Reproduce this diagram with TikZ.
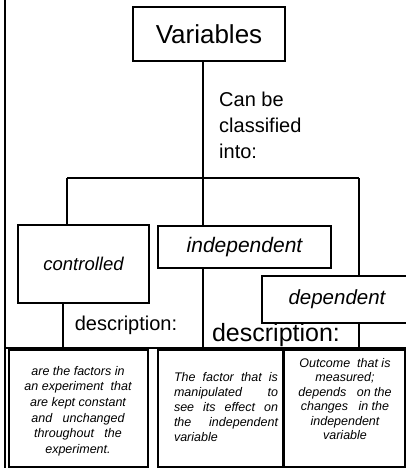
\documentclass[tikz,border=0pt]{standalone}
\usepackage{fontspec}
\setmainfont{Liberation Sans}
\usepackage{tikz}

\tikzset{
  box/.style={draw, line width=1.3pt, inner sep=0pt},
  descbox/.style={draw, line width=1.6pt, inner sep=0pt},
  desctxt/.style={inner sep=0pt, font=\fontsize{12.5}{15.6}\selectfont\itshape},
  link/.style={line width=1.3pt}
}

\begin{document}
\begin{tikzpicture}[x=1pt,y=-1pt]
        \clip (0,0) rectangle (406,468);
        \draw[line width=1.5pt] (5,0) -- (5,468);
        \draw[line width=1.2pt] (5,348) -- (406,348);

        \node[box, line width=1.5pt, minimum width=152pt, minimum height=54pt, font=\fontsize{26}{30}\selectfont] (var) at (209,34) {Variables};
        \node[anchor=north west, align=left, inner sep=0pt, font=\fontsize{20}{26}\selectfont] (cls) at (219,92) {Can be\\classified\\into:};

        \node[box, minimum width=131pt, minimum height=78pt, font=\fontsize{18.5}{22}\selectfont\itshape] (ctrl) at (83.5,264) {controlled};
        \node[box, minimum width=173pt, minimum height=42pt, font=\fontsize{21}{25}\selectfont\itshape] (ind) at (244.5,247) {independent};
        \node[box, minimum width=150pt, minimum height=47pt, font=\fontsize{20.5}{25}\selectfont\itshape] (dep) at (337,299.5) {dependent};

        \coordinate (hub) at (203,178);
        \coordinate (lb) at (67,178);
        \coordinate (rb) at (359,178);
        \draw[line width=2.5pt] (var.south -| hub) -- (hub |- ind.north);
        \draw[link] (lb) -- (rb);
        \draw[link] (lb) -- (lb |- ctrl.north);
        \draw[link] (rb) -- (rb |- dep.north);

        \node[font=\fontsize{20}{24}\selectfont] (dc1) at (126,325) {description:};
        \node[font=\fontsize{25}{29}\selectfont] (dc2) at (276,335) {description:};

        \coordinate (c1) at (63,348);
        \coordinate (c2) at (203,348);
        \coordinate (c3) at (359,348);
        \draw[link] (c1 |- ctrl.south) -- (c1);
        \draw[link] (c2 |- ind.south) -- (c2);
        \draw[link] (c3 |- dep.south) -- (c3);

        \node[descbox, minimum width=139pt, minimum height=117pt] (d1) at (78.5,408.5) {};
        \node[descbox, minimum width=125pt, minimum height=117pt] (d2) at (220.5,408.5) {};
        \node[descbox, minimum width=121pt, minimum height=117pt] (d3) at (344.5,408.5) {};

        \node[desctxt, align=center] (t1) at (78,411) {are the factors in\\an experiment\ \ that\\are kept constant\\and\ \ \ unchanged\\throughout\ \ \ the\\experiment.};
        \node[desctxt, align=justify, text width=104pt, font=\fontsize{12.5}{15}\selectfont\itshape] (t2) at (226,407) {The factor that is\linebreak manipulated to\linebreak see its effect on\linebreak the independent\linebreak variable};
        \node[desctxt, align=center, font=\fontsize{12.5}{14.5}\selectfont\itshape] (t3) at (345,399) {Outcome\ \ that is\\measured;\\depends\ \ \ on the\\changes\ \ \ in the\\independent\\variable};
    \end{tikzpicture}
\end{document}
